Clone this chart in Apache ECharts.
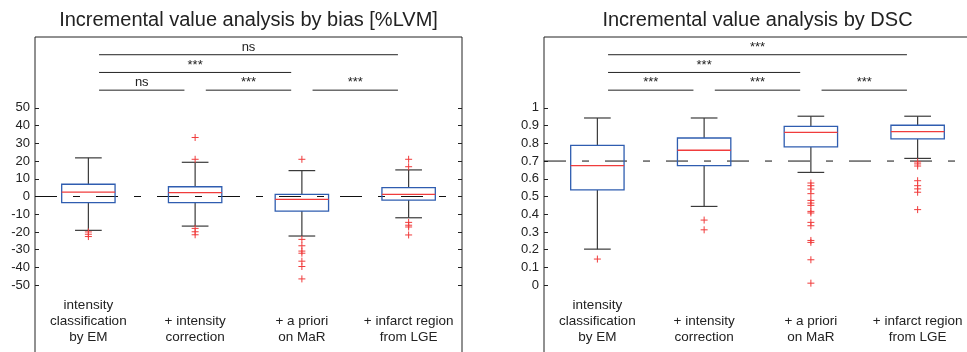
<!DOCTYPE html>
<html>
<head>
<meta charset="utf-8">
<title>Incremental value analysis</title>
<script src="https://cdn.jsdelivr.net/npm/echarts@6/dist/echarts.min.js"></script>
<style>
  html, body { margin: 0; padding: 0; background: #fff; }
  #chart { width: 967px; height: 352px; }
</style>
</head>
<body>
<div id="chart"></div>
<script>
// Method steps compared in both panels
const categories = [
  'intensity\nclassification\nby EM',
  '+ intensity\ncorrection',
  '+ a priori\non MaR',
  '+ infarct region\nfrom LGE'
];

// Tick labels
const biasTicks = [-50, -40, -30, -20, -10, 0, 10, 20, 30, 40, 50];
const dscTicks = [0, 0.1, 0.2, 0.3, 0.4, 0.5, 0.6, 0.7, 0.8, 0.9, 1];

// Box statistics per method: [lower whisker, Q1, median, Q3, upper whisker]
const biasBoxes = [
  [-19.1, -3.5, 2.5, 6.9, 21.8],
  [-16.7, -3.5, 2.2, 5.5, 19.3],
  [-22.3, -8.2, -1.6, 1.2, 14.6],
  [-12.0, -2.0, 1.2, 5.0, 15.0]
];
const dscBoxes = [
  [0.203, 0.537, 0.674, 0.789, 0.943],
  [0.444, 0.674, 0.761, 0.830, 0.943],
  [0.636, 0.780, 0.862, 0.896, 0.953],
  [0.715, 0.825, 0.866, 0.902, 0.953]
];

// Outliers per method
const biasOutliers = [
  [-20.0, -21.3, -22.6],
  [33.3, 21.0, -18.0, -19.9, -21.6],
  [21.0, -24.2, -27.8, -30.8, -32.0, -36.5, -39.5, -46.5],
  [21.0, 16.8, -14.6, -16.2, -17.2, -21.7]
];
const dscOutliers = [
  [0.147],
  [0.367, 0.312],
  [0.576, 0.561, 0.542, 0.516, 0.478, 0.463, 0.450, 0.416, 0.407, 0.354, 0.335, 0.252, 0.241, 0.143, 0.011],
  [0.695, 0.684, 0.672, 0.589, 0.561, 0.543, 0.524, 0.426]
];

// Reference levels (dashed lines)
const biasReference = 0;
const dscReference = 0.7;

// Pairwise significance brackets: [from method, to method]
const sigPairs = [[0, 3], [0, 2], [0, 1], [1, 2], [2, 3]];
const biasSigLevel = [80, 70, 60, 60, 60];
const dscSigLevel = [1.3, 1.2, 1.1, 1.1, 1.1];
const biasSigText = ['ns', '***', 'ns', '***', '***'];
const dscSigText = ['***', '***', '***', '***', '***'];

// Styles
const BLUE = '#2f5db0';
const RED = '#f03c3c';
const WHISKER = '#3a3a3a';
const INK = '#222';
const FONT = '"Liberation Sans", Arial, Helvetica, sans-serif';

function boxItem(params, api) {
  const i = api.value(0);
  const band = api.size([1, 0])[0];
  const x = api.coord([i, api.value(3)])[0];
  const y = k => api.coord([i, api.value(k)])[1];
  const yMin = y(1), yQ1 = y(2), yMed = y(3), yQ3 = y(4), yMax = y(5);
  const hw = band * 0.25;   // half box width
  const cw = band * 0.125;  // half cap width
  const wStyle = { stroke: WHISKER, lineWidth: 1.2 };
  return {
    type: 'group',
    children: [
      { type: 'line', shape: { x1: x, y1: yQ3, x2: x, y2: yMax }, style: wStyle },
      { type: 'line', shape: { x1: x, y1: yQ1, x2: x, y2: yMin }, style: wStyle },
      { type: 'line', shape: { x1: x - cw, y1: yMax, x2: x + cw, y2: yMax }, style: wStyle },
      { type: 'line', shape: { x1: x - cw, y1: yMin, x2: x + cw, y2: yMin }, style: wStyle },
      { type: 'rect', shape: { x: x - hw, y: yQ3, width: 2 * hw, height: yQ1 - yQ3 },
        style: { fill: 'none', stroke: BLUE, lineWidth: 1.3 } },
      { type: 'line', shape: { x1: x - hw, y1: yMed, x2: x + hw, y2: yMed },
        style: { stroke: RED, lineWidth: 1.3 } }
    ]
  };
}

function plusItem(params, api) {
  const c = api.coord([api.value(0), api.value(1)]);
  const h = 3.5;
  const st = { stroke: RED, lineWidth: 1 };
  return {
    type: 'group',
    children: [
      { type: 'line', shape: { x1: c[0] - h, y1: c[1], x2: c[0] + h, y2: c[1] }, style: st },
      { type: 'line', shape: { x1: c[0], y1: c[1] - h, x2: c[0], y2: c[1] + h }, style: st }
    ]
  };
}

// Dashed reference line across the full plot width
function refItem(params, api) {
  const cs = params.coordSys;
  const y = api.coord([0, api.value(0)])[1];
  return {
    type: 'line',
    shape: { x1: cs.x, y1: y, x2: cs.x + cs.width, y2: y },
    style: { stroke: '#111', lineWidth: 1, lineDash: [22, 16, 7, 16] }
  };
}

function sigRenderer(texts) {
  return function (params, api) {
    const from = api.value(0), to = api.value(1), level = api.value(2);
    const band = api.size([1, 0])[0];
    const a = api.coord([from, level]);
    const b = api.coord([to, level]);
    const x1 = a[0] + band * 0.1, x2 = b[0] - band * 0.1;
    return {
      type: 'group',
      children: [
        { type: 'line', shape: { x1: x1, y1: a[1], x2: x2, y2: a[1] },
          style: { stroke: INK, lineWidth: 1 } },
        { type: 'text', x: (x1 + x2) / 2, y: a[1] - 1,
          style: { text: texts[params.dataIndex], fill: INK, font: '13px ' + FONT,
                   align: 'center', verticalAlign: 'bottom' } }
      ]
    };
  };
}

function panelSeries(gridIndex, boxes, outliers, sigLevel, sigText, reference) {
  const xi = gridIndex, yi = gridIndex * 2;
  const plusData = [];
  outliers.forEach((vals, i) => vals.forEach(v => plusData.push([i, v])));
  return [
    {
      type: 'custom', xAxisIndex: xi, yAxisIndex: yi,
      renderItem: refItem,
      data: [[reference]],
      encode: { y: 0 },
      silent: true, z: 1
    },
    {
      type: 'custom', xAxisIndex: xi, yAxisIndex: yi,
      renderItem: sigRenderer(sigText),
      data: sigPairs.map((p, k) => [p[0], p[1], sigLevel[k]]),
      encode: { x: [0, 1], y: 2 },
      silent: true, z: 2
    },
    {
      type: 'custom', xAxisIndex: xi, yAxisIndex: yi,
      renderItem: boxItem,
      data: boxes.map((b, i) => [i].concat(b)),
      encode: { x: 0, y: [1, 2, 3, 4, 5] },
      silent: true, z: 3
    },
    {
      type: 'custom', xAxisIndex: xi, yAxisIndex: yi,
      renderItem: plusItem,
      data: plusData,
      encode: { x: 0, y: 1 },
      silent: true, z: 4
    }
  ];
}

function yAxes(gridIndex, min, max, ticks) {
  const common = {
    type: 'value', gridIndex: gridIndex, min: min, max: max,
    splitLine: { show: false },
    axisLine: { show: false }
  };
  return [
    Object.assign({}, common, {
      position: 'left',
      axisTick: { show: true, inside: true, length: 4, customValues: ticks,
                  lineStyle: { color: INK } },
      axisLabel: { show: true, customValues: ticks, margin: 5,
                   color: INK, fontSize: 13, fontFamily: FONT }
    }),
    Object.assign({}, common, {
      position: 'right',
      axisTick: { show: true, inside: true, length: 4, customValues: ticks,
                  lineStyle: { color: INK } },
      axisLabel: { show: false }
    })
  ];
}

function xAxis(gridIndex) {
  return {
    type: 'category', gridIndex: gridIndex, data: categories,
    boundaryGap: true,
    axisLine: { show: false },
    axisTick: { show: false },
    splitLine: { show: false },
    axisLabel: {
      inside: true, margin: 11, interval: 0,
      verticalAlign: 'bottom', align: 'center',
      color: INK, fontSize: 13.5, lineHeight: 15.7, fontFamily: FONT
    }
  };
}

const gridBox = {
  top: 37, height: 319, width: 427,
  outerBoundsMode: 'none', containLabel: false,
  show: true, borderColor: INK, borderWidth: 1
};

const chart = echarts.init(document.getElementById('chart'), null, { renderer: 'canvas' });
chart.setOption({
  animation: false,
  backgroundColor: '#fff',
  graphic: [
    { type: 'text', x: 248.5, y: 20,
      style: { text: 'Incremental value analysis by bias [%LVM]', fill: INK,
               font: '20px ' + FONT, align: 'center', verticalAlign: 'middle' } },
    { type: 'text', x: 757.5, y: 20,
      style: { text: 'Incremental value analysis by DSC', fill: INK,
               font: '20px ' + FONT, align: 'center', verticalAlign: 'middle' } }
  ],
  grid: [
    Object.assign({ left: 35 }, gridBox),
    Object.assign({ left: 544 }, gridBox)
  ],
  xAxis: [xAxis(0), xAxis(1)],
  yAxis: yAxes(0, -90, 90, biasTicks).concat(yAxes(1, -0.4, 1.4, dscTicks)),
  series: panelSeries(0, biasBoxes, biasOutliers, biasSigLevel, biasSigText, biasReference)
    .concat(panelSeries(1, dscBoxes, dscOutliers, dscSigLevel, dscSigText, dscReference))
});
</script>
</body>
</html>
